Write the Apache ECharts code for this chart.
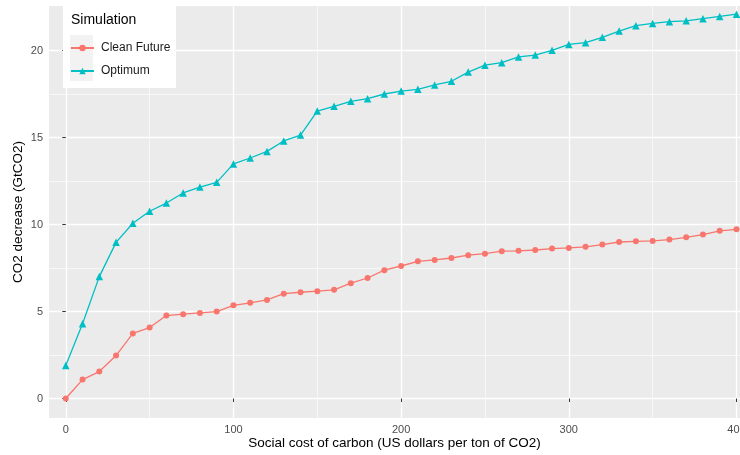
<!DOCTYPE html>
<html>
<head>
<meta charset="utf-8">
<script src="https://cdn.jsdelivr.net/npm/echarts@6/dist/echarts.min.js"></script>
<style>
  html, body { margin: 0; padding: 0; background: #fff; }
  #chart { width: 740px; height: 455px; }
</style>
</head>
<body>
<div id="chart"></div>
<script>
// social cost of carbon, US$ per ton of CO2
const costs = [0, 10, 20, 30, 40, 50, 60, 70, 80, 90, 100, 110, 120, 130, 140, 150, 160, 170, 180, 190, 200,
  210, 220, 230, 240, 250, 260, 270, 280, 290, 300, 310, 320, 330, 340, 350, 360, 370, 380, 390, 400]
// CO2 decrease (GtCO2)
const cleanFuture = [0, 1.09, 1.55, 2.47, 3.74, 4.08, 4.77, 4.85, 4.92, 5.0, 5.36, 5.5, 5.67, 6.03, 6.11, 6.17,
  6.25, 6.63, 6.93, 7.38, 7.62, 7.89, 7.97, 8.08, 8.24, 8.33, 8.47, 8.49, 8.54, 8.62, 8.66, 8.72, 8.85, 9.0,
  9.04, 9.06, 9.14, 9.27, 9.43, 9.64, 9.73]
const optimum = [1.9, 4.3, 7.01, 8.98, 10.08, 10.77, 11.24, 11.82, 12.16, 12.43, 13.49, 13.83, 14.21, 14.81,
  15.15, 16.53, 16.8, 17.09, 17.24, 17.51, 17.68, 17.78, 18.03, 18.24, 18.77, 19.17, 19.31, 19.64, 19.75,
  20.02, 20.36, 20.46, 20.77, 21.13, 21.44, 21.57, 21.67, 21.72, 21.84, 21.97, 22.1]
const xTicks = [0, 100, 200, 300, 400]
const xMinor = [50, 150, 250, 350]
const yTicks = [0, 5, 10, 15, 20]
const yMinor = [2.5, 7.5, 12.5, 17.5]

const font = 'Liberation Sans, Arial, sans-serif'
const chart = echarts.init(document.getElementById('chart'))

const minorAxis = (values) => ({
  type: 'value',
  show: true,
  axisLine: { show: false },
  axisLabel: { show: false },
  axisTick: { show: false, customValues: values },
  splitLine: { show: true, lineStyle: { color: '#fff', width: 0.6 } }
})

const option = {
  animation: false,
  textStyle: { fontFamily: font },
  grid: {
    left: 49,
    top: 6,
    right: 0,
    bottom: 37,
    outerBoundsMode: 'none',
    containLabel: false,
    show: true,
    backgroundColor: '#EBEBEB',
    borderWidth: 0
  },
  xAxis: [
    {
      type: 'value',
      min: -10,
      max: 402.1,
      axisLine: { show: false },
      axisTick: { show: true, length: 3.5, customValues: xTicks, lineStyle: { color: '#333' } },
      axisLabel: { customValues: xTicks, color: '#4D4D4D', fontSize: 11, margin: 6 },
      splitLine: { show: true, lineStyle: { color: '#fff', width: 1.3 } },
      name: 'Social cost of carbon (US dollars per ton of CO2)',
      nameLocation: 'middle',
      nameGap: 18,
      nameMoveOverlap: false,
      nameTextStyle: { color: '#000', fontSize: 13.5 }
    },
    Object.assign(minorAxis(xMinor), { min: -10, max: 402.1, position: 'top' })
  ],
  yAxis: [
    {
      type: 'value',
      min: -1.12,
      max: 22.57,
      axisLine: { show: false },
      axisTick: { show: true, length: 3.5, customValues: yTicks, lineStyle: { color: '#333' } },
      axisLabel: { customValues: yTicks, color: '#4D4D4D', fontSize: 11, margin: 6 },
      splitLine: { show: true, lineStyle: { color: '#fff', width: 1.3 } },
      name: 'CO2 decrease (GtCO2)',
      nameLocation: 'middle',
      nameGap: 24,
      nameMoveOverlap: false,
      nameTextStyle: { color: '#000', fontSize: 13.5 }
    },
    Object.assign(minorAxis(yMinor), { min: -1.12, max: 22.57, position: 'right' })
  ],
  graphic: [
    { type: 'rect', left: 63, top: 6, z: 5, shape: { width: 113, height: 82 }, style: { fill: '#fff' } },
    { type: 'rect', left: 70, top: 35, z: 6, shape: { width: 23, height: 46 }, style: { fill: '#F2F2F2' } },
    {
      type: 'text', left: 71, top: 13, z: 6,
      style: { text: 'Simulation', fill: '#000', fontSize: 14, fontFamily: font }
    }
  ],
  legend: {
    orient: 'vertical',
    left: 70,
    top: 42,
    padding: 0,
    z: 10,
    itemWidth: 23,
    itemHeight: 8,
    itemGap: 11,
    textStyle: { color: '#1A1A1A', fontSize: 12, padding: [0, 0, 0, 2] },
    data: ['Clean Future', 'Optimum']
  },
  series: [
    {
      name: 'Clean Future',
      type: 'line',
      symbol: 'circle',
      symbolSize: 6,
      color: '#F8766D',
      lineStyle: { width: 1.3 },
      data: costs.map((c, i) => [c, cleanFuture[i]])
    },
    {
      name: 'Optimum',
      type: 'line',
      symbol: 'triangle',
      symbolSize: 7.5,
      color: '#00BFC4',
      lineStyle: { width: 1.3 },
      data: costs.map((c, i) => [c, optimum[i]])
    }
  ]
}
chart.setOption(option)
</script>
</body>
</html>
